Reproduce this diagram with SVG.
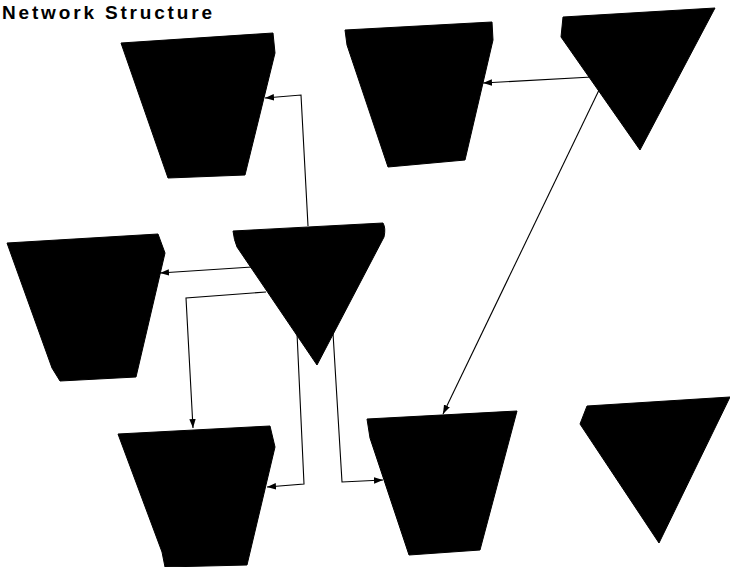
<svg xmlns="http://www.w3.org/2000/svg" width="730" height="567" viewBox="0 0 730 567">
<style>
.node{fill:#000;stroke:#000;stroke-width:1;stroke-linejoin:round}
.edge{fill:none;stroke:#000;stroke-width:1.1}
.title{font-family:"Liberation Sans",Arial,sans-serif;font-weight:bold;font-size:19px;fill:#000}
</style>
<defs>
<marker id="arr" markerUnits="userSpaceOnUse" markerWidth="10" markerHeight="8" refX="9" refY="4" orient="auto">
<path d="M0,0.8 L9,4 L0,7.2 Z" fill="#000"/>
</marker>
</defs>
<rect width="730" height="567" fill="#fff"/>
<text class="title" x="2" y="19" textLength="210" lengthAdjust="spacing">Network Structure</text>
<g id="node-top-left"><polygon class="node" points="121,43 273,33 275,53 245,175 168,178"/></g>
<g id="node-top-middle"><polygon class="node" points="345,30 492,22 493,40 465,160 388,167 347,45"/></g>
<g id="node-top-right"><polygon class="node" points="563,17 715,8 640,150 561,37"/></g>
<g id="node-mid-left"><polygon class="node" points="7,243 158,234 165,253 136,377 60,381 52,368"/></g>
<g id="node-center"><path class="node" d="M233,231 L383,223 Q386,228 384,237 L317,365 L237,247 Q234,240 233,231 Z"/></g>
<g id="node-bottom-left"><polygon class="node" points="118,434 270,426 275,447 247,565 165,567 162,552"/></g>
<g id="node-bottom-middle"><polygon class="node" points="367,419 517,411 480,550 409,555 370,438"/></g>
<g id="node-bottom-right"><polygon class="node" points="587,406 730,397 659,543 580,424"/></g>
<g id="connectors">
<polyline class="edge" points="308,226 301,95 265,98" marker-end="url(#arr)"/>
<line class="edge" x1="592" y1="77" x2="483" y2="83" marker-end="url(#arr)"/>
<line class="edge" x1="600" y1="88" x2="443" y2="414" marker-end="url(#arr)"/>
<line class="edge" x1="252" y1="267" x2="160" y2="273" marker-end="url(#arr)"/>
<polyline class="edge" points="266,292 186,298 193,428" marker-end="url(#arr)"/>
<polyline class="edge" points="297,333 304,484 267,487" marker-end="url(#arr)"/>
<polyline class="edge" points="333,333 342,482 383,480" marker-end="url(#arr)"/>
</g>
</svg>
